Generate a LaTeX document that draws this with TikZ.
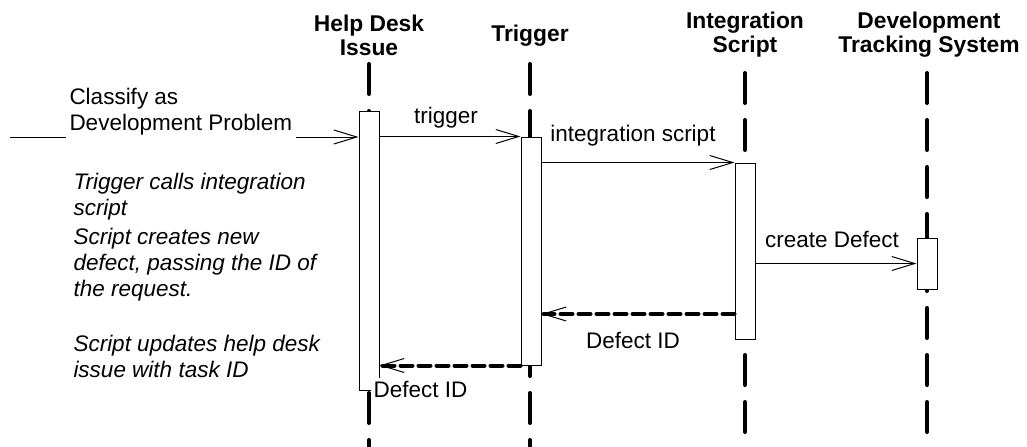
\documentclass[tikz,border=0pt]{standalone}
\usepackage{fontspec}
\setmainfont{Liberation Sans}
\usepackage{tikz}
\usetikzlibrary{arrows.meta}
\tikzstyle{head}=[font=\bfseries\fontsize{11.4}{12}\selectfont,align=center,inner sep=0pt]
\tikzstyle{act}=[rectangle,draw=black,fill=white,line width=0.5pt,minimum width=10pt,inner sep=0pt]
\tikzstyle{life}=[line width=2pt,dash pattern=on 15pt off 8.5pt,line cap=round]
\tikzstyle{msg}=[-{Straight Barb[length=11.5pt,width=7pt]},line width=0.5pt]
\tikzstyle{ret}=[-{Straight Barb[length=11.5pt,width=7pt,line width=0.5pt]},line width=2pt,dash pattern=on 6pt off 3pt,line cap=round]
\tikzstyle{lbl}=[inner sep=0pt,anchor=base]
\tikzstyle{note}=[font=\itshape,align=left,anchor=north west,inner sep=0pt]
\tikzset{every picture/.style={
    line width=0.5pt
  }
}
\begin{document}
\fontsize{11.25}{13}\selectfont
\begin{tikzpicture}[x=0.5pt,y=-0.5pt]
        \useasboundingbox (0,0) rectangle (1027,446);
        \node[head] at (369,35) (hd) {Help Desk\\Issue};
        \node[head] at (530,36) (tr) {Trigger};
        \node[head] at (745,35) (is) {Integration\\Script};
        \node[head] at (929,35) (dv) {Development\\Tracking System};
        \coordinate (hdtop) at (369,64);
        \coordinate (trtop) at (530,64);
        \coordinate (istop) at (745,73);
        \coordinate (dvtop) at (927,73);
        \coordinate (hdend) at (369,446);
        \coordinate (trend) at (530,446);
        \coordinate (isend) at (745,446);
        \coordinate (dvend) at (927,446);
        \draw[life] (hdtop) -- (hdend);
        \draw[life] (trtop) -- (trend);
        \draw[life] (istop) -- (isend);
        \draw[life] (dvtop) -- (dvend);
        \node[act,minimum height=139.5pt] at (369,250.5) (hdbox) {};
        \node[act,minimum height=114pt] at (531,251) (trbox) {};
        \node[act,minimum height=88pt] at (745,251) (isbox) {};
        \node[act,minimum height=25.5pt] at (927,263.5) (dvbox) {};
        \coordinate (src) at (10,137);
        \coordinate (r1) at (745,314);
        \draw[msg] (src) -- (hdbox.west |- src);
        \node[align=left,anchor=south west,inner sep=2pt,fill=white] at (65,140) (cls) {Classify as\\Development Problem};
        \draw[msg] (hdbox.east |- trbox.north) -- (trbox.north west);
        \node[lbl] at (446,123) (ltr) {trigger};
        \draw[msg] (trbox.east |- isbox.north) -- (isbox.north west);
        \node[lbl] at (633,141) (lis) {integration script};
        \draw[msg] (isbox.east |- dvbox) -- (dvbox.west);
        \node[lbl] at (832,247) (ldv) {create Defect};
        \draw[ret] (isbox.west |- r1) -- (trbox.east |- r1);
        \node[lbl] at (633,348) (lr1) {Defect ID};
        \draw[ret] (trbox.south west) -- (hdbox.east |- trbox.south);
        \node[anchor=base west,inner sep=1.5pt,fill=white] at (370,397) (lr2) {Defect ID};
        \node[note] at (73,173) (n1) {Trigger calls integration\\script};
        \node[note] at (73,228) (n2) {Script creates new\\defect, passing the ID of\\the request.};
        \node[note] at (73,335) (n3) {Script updates help desk\\issue with task ID};
      \end{tikzpicture}
\end{document}
